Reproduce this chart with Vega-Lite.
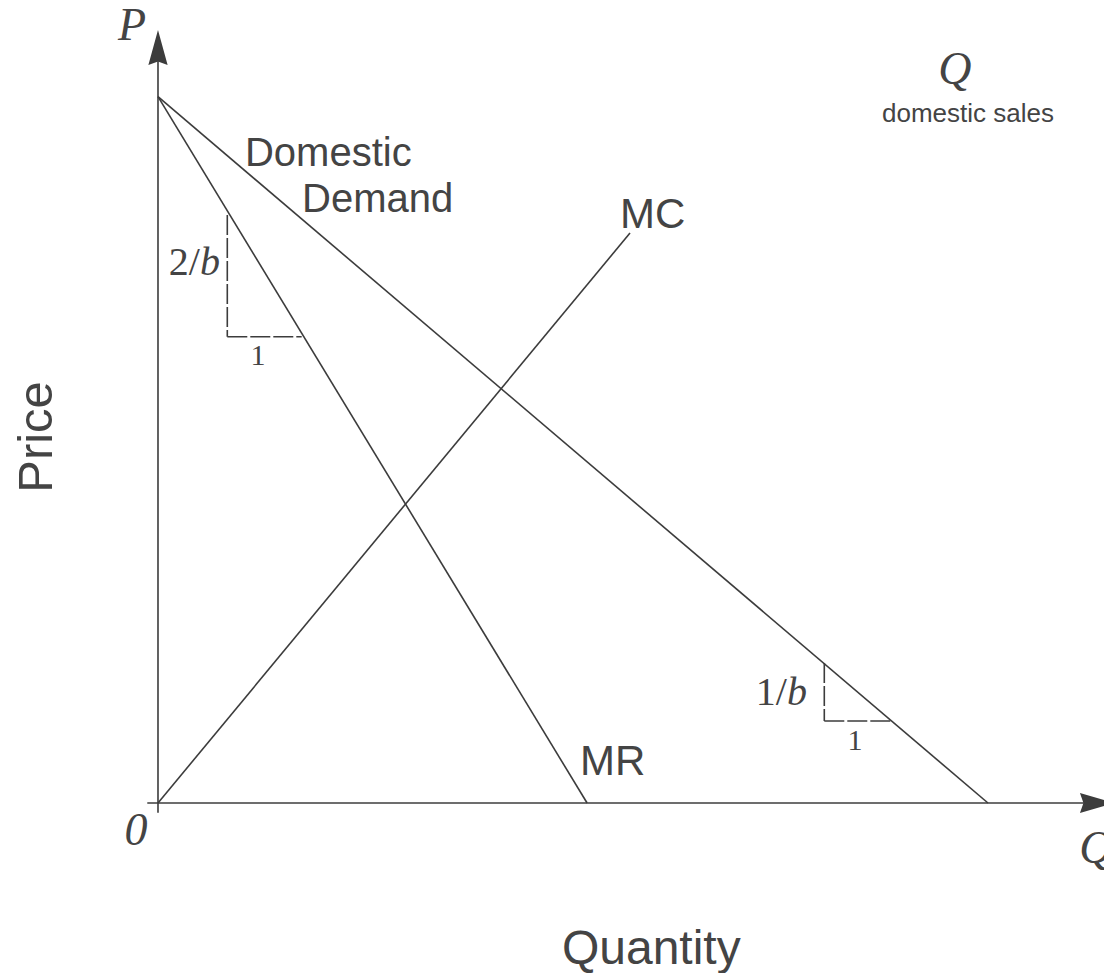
{
  "$schema": "https://vega.github.io/schema/vega-lite/v6.json",
  "width": 1104,
  "height": 973,
  "padding": 0,
  "autosize": {"type": "none"},
  "background": "white",
  "config": {"view": {"stroke": null}},
  "datasets": {
    "segments": [
      {"seg": "Demand", "q1": 0, "p1": 10, "q2": 10, "p2": 0},
      {"seg": "MR", "q1": 0, "p1": 10, "q2": 5.17, "p2": 0},
      {"seg": "MC", "q1": 0, "p1": 0, "q2": 5.687, "p2": 8.07},
      {"seg": "Price axis", "q1": 0, "p1": -0.137, "q2": 0, "p2": 10.6},
      {"seg": "Quantity axis", "q1": -0.129, "p1": 0, "q2": 11.2, "p2": 0}
    ],
    "dashes": [
      {"seg": "rise MR", "q1": 0.835, "p1": 8.325, "q2": 0.835, "p2": 6.602},
      {"seg": "run MR", "q1": 0.835, "p1": 6.602, "q2": 1.731, "p2": 6.602},
      {"seg": "rise D", "q1": 8.028, "p1": 1.982, "q2": 8.028, "p2": 1.161},
      {"seg": "run D", "q1": 8.028, "p1": 1.161, "q2": 8.855, "p2": 1.161}
    ],
    "arrows": [
      {"dir": "up", "q": 0, "p": 10.697},
      {"dir": "right", "q": 11.319, "p": 0}
    ],
    "labels": [
      {"g": "sans40", "label": "Domestic", "q": 1.048, "p": 9.019},
      {"g": "sans40", "label": "Demand", "q": 1.735, "p": 8.368},
      {"g": "sans42", "label": "MC", "q": 5.566, "p": 8.141},
      {"g": "sans42", "label": "MR", "q": 5.084, "p": 0.396},
      {"g": "ytitle", "label": "Price", "q": -1.281, "p": 5.182},
      {"g": "xtitle", "label": "Quantity", "q": 4.867, "p": -2.279},
      {"g": "small", "label": "domestic sales", "q": 9.759, "p": 9.642},
      {"g": "italic", "label": "P", "q": -0.313, "p": 10.803},
      {"g": "italic", "label": "Q", "q": 9.602, "p": 10.18},
      {"g": "italic", "label": "0", "q": -0.265, "p": -0.595},
      {"g": "italic", "label": "Q", "q": 11.301, "p": -0.849},
      {"g": "frac", "label": "2/", "q": 0.506, "p": 7.476},
      {"g": "fracb", "label": "b", "q": 0.506, "p": 7.476},
      {"g": "frac", "label": "1/", "q": 7.578, "p": 1.388},
      {"g": "fracb", "label": "b", "q": 7.578, "p": 1.388},
      {"g": "one", "label": "1", "q": 1.205, "p": 6.201},
      {"g": "one", "label": "1", "q": 8.398, "p": 0.75}
    ]
  },
  "layer": [
    {
      "data": {"name": "segments"},
      "mark": {"type": "rule", "color": "#3c3c3c", "strokeWidth": 1.6},
      "encoding": {
        "x": {"field": "q1", "type": "quantitative", "scale": {"domain": [-1.9036, 11.398], "nice": false, "zero": false}, "axis": null},
        "y": {"field": "p1", "type": "quantitative", "scale": {"domain": [-2.4069, 11.369], "nice": false, "zero": false}, "axis": null},
        "x2": {"field": "q2"},
        "y2": {"field": "p2"}
      }
    },
    {
      "data": {"name": "dashes"},
      "mark": {"type": "rule", "color": "#3c3c3c", "strokeWidth": 1.6, "strokeDash": [20, 3]},
      "encoding": {
        "x": {"field": "q1", "type": "quantitative"},
        "y": {"field": "p1", "type": "quantitative"},
        "x2": {"field": "q2"},
        "y2": {"field": "p2"}
      }
    },
    {
      "data": {"name": "arrows"},
      "transform": [{"filter": "datum.dir === 'up'"}],
      "mark": {"type": "point", "filled": true, "opacity": 1, "color": "#3c3c3c", "size": 1225, "shape": "M0,-1L0.55,1L0,0.8L-0.55,1Z"},
      "encoding": {
        "x": {"field": "q", "type": "quantitative"},
        "y": {"field": "p", "type": "quantitative"}
      }
    },
    {
      "data": {"name": "arrows"},
      "transform": [{"filter": "datum.dir === 'right'"}],
      "mark": {"type": "point", "filled": true, "opacity": 1, "color": "#3c3c3c", "size": 1225, "shape": "M1,0L-1,0.57L-0.8,0L-1,-0.57Z"},
      "encoding": {
        "x": {"field": "q", "type": "quantitative"},
        "y": {"field": "p", "type": "quantitative"}
      }
    },
    {
      "data": {"name": "labels"},
      "transform": [{"filter": "datum.g === 'sans40'"}],
      "mark": {"type": "text", "font": "Liberation Sans", "fontSize": 40, "align": "left", "baseline": "alphabetic", "color": "#444444"},
      "encoding": {
        "x": {"field": "q", "type": "quantitative"},
        "y": {"field": "p", "type": "quantitative"},
        "text": {"field": "label"}
      }
    },
    {
      "data": {"name": "labels"},
      "transform": [{"filter": "datum.g === 'sans42'"}],
      "mark": {"type": "text", "font": "Liberation Sans", "fontSize": 42, "align": "left", "baseline": "alphabetic", "color": "#444444"},
      "encoding": {
        "x": {"field": "q", "type": "quantitative"},
        "y": {"field": "p", "type": "quantitative"},
        "text": {"field": "label"}
      }
    },
    {
      "data": {"name": "labels"},
      "transform": [{"filter": "datum.g === 'ytitle'"}],
      "mark": {"type": "text", "font": "Liberation Sans", "fontSize": 49, "angle": 270, "align": "center", "baseline": "alphabetic", "color": "#444444"},
      "encoding": {
        "x": {"field": "q", "type": "quantitative"},
        "y": {"field": "p", "type": "quantitative"},
        "text": {"field": "label"}
      }
    },
    {
      "data": {"name": "labels"},
      "transform": [{"filter": "datum.g === 'xtitle'"}],
      "mark": {"type": "text", "font": "Liberation Sans", "fontSize": 48, "align": "left", "baseline": "alphabetic", "color": "#444444"},
      "encoding": {
        "x": {"field": "q", "type": "quantitative"},
        "y": {"field": "p", "type": "quantitative"},
        "text": {"field": "label"}
      }
    },
    {
      "data": {"name": "labels"},
      "transform": [{"filter": "datum.g === 'small'"}],
      "mark": {"type": "text", "font": "Liberation Sans", "fontSize": 26, "align": "center", "baseline": "alphabetic", "color": "#444444"},
      "encoding": {
        "x": {"field": "q", "type": "quantitative"},
        "y": {"field": "p", "type": "quantitative"},
        "text": {"field": "label"}
      }
    },
    {
      "data": {"name": "labels"},
      "transform": [{"filter": "datum.g === 'italic'"}],
      "mark": {"type": "text", "font": "Liberation Serif", "fontStyle": "italic", "fontSize": 46, "align": "center", "baseline": "alphabetic", "color": "#444444"},
      "encoding": {
        "x": {"field": "q", "type": "quantitative"},
        "y": {"field": "p", "type": "quantitative"},
        "text": {"field": "label"}
      }
    },
    {
      "data": {"name": "labels"},
      "transform": [{"filter": "datum.g === 'frac'"}],
      "mark": {"type": "text", "font": "Liberation Serif", "fontSize": 40, "align": "right", "baseline": "alphabetic", "color": "#444444"},
      "encoding": {
        "x": {"field": "q", "type": "quantitative"},
        "y": {"field": "p", "type": "quantitative"},
        "text": {"field": "label"}
      }
    },
    {
      "data": {"name": "labels"},
      "transform": [{"filter": "datum.g === 'fracb'"}],
      "mark": {"type": "text", "font": "Liberation Serif", "fontStyle": "italic", "fontSize": 40, "align": "left", "baseline": "alphabetic", "color": "#444444"},
      "encoding": {
        "x": {"field": "q", "type": "quantitative"},
        "y": {"field": "p", "type": "quantitative"},
        "text": {"field": "label"}
      }
    },
    {
      "data": {"name": "labels"},
      "transform": [{"filter": "datum.g === 'one'"}],
      "mark": {"type": "text", "font": "Liberation Serif", "fontSize": 30, "align": "center", "baseline": "alphabetic", "color": "#444444"},
      "encoding": {
        "x": {"field": "q", "type": "quantitative"},
        "y": {"field": "p", "type": "quantitative"},
        "text": {"field": "label"}
      }
    }
  ]
}
